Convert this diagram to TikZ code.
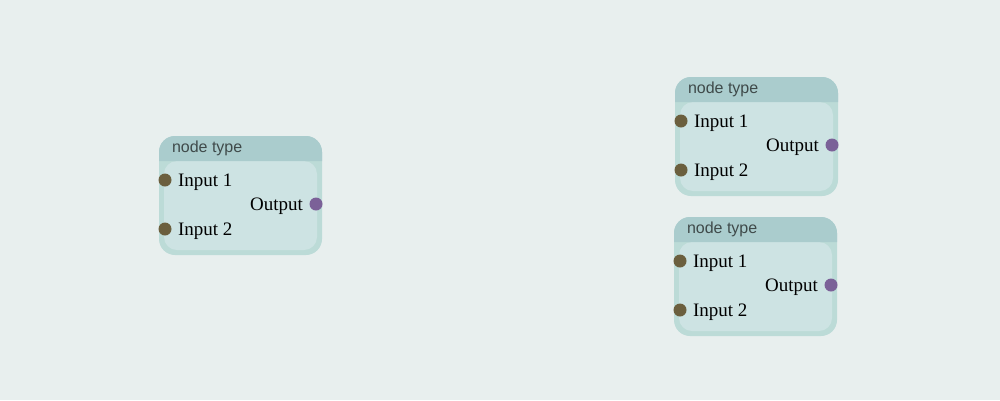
\documentclass[tikz,border=0pt]{standalone}
\usepackage{fontspec}
\setmainfont{Liberation Serif}
\newfontfamily\headfont{Liberation Sans}
\usetikzlibrary{positioning,calc}
\definecolor{canvas}{HTML}{E8EFEE}
\definecolor{rim}{HTML}{BCDBD7}
\definecolor{bodycol}{HTML}{CDE3E3}
\definecolor{headcol}{HTML}{AACCCD}
\definecolor{headink}{HTML}{3F4A4A}
\definecolor{inpin}{HTML}{6B5F3E}
\definecolor{outpin}{HTML}{7B6198}

\begin{document}
\begin{tikzpicture}[x=1pt,y=-1pt]
    \tikzstyle{every node}=[inner sep=0,outer sep=0]
    \tikzstyle{box}=[rectangle,fill=rim,rounded corners=16,minimum width=163,minimum height=119]
    \tikzstyle{socket}=[circle,minimum size=13]
    \tikzstyle{inport}=[socket,fill=inpin]
    \tikzstyle{outport}=[socket,fill=outpin]
    \tikzstyle{portname}=[font=\fontsize{19}{21}\selectfont,node distance=6.5,yshift=-2]
    \tikzstyle{headtext}=[font=\headfont\fontsize{16}{18}\selectfont,text=headink,anchor=west]

    \fill[canvas] (0,0) rectangle (1000,400);

    \foreach \i/\x/\y in {a/159/136, b/675/77, c/674/217}
    {
        \node[box] (box\i) at (\x+81.5,\y+59.5) {};
        \fill[bodycol,rounded corners=13] ([xshift=5,yshift=5]box\i.south west)
            rectangle ([xshift=-5,yshift=-25]box\i.north east);
        \fill[headcol] ([yshift=-25]box\i.north west) [rounded corners=16]
            -- (box\i.north west) -- (box\i.north east) [sharp corners]
            -- ([yshift=-25]box\i.north east) -- cycle;

        \node[headtext] (head\i) at ([xshift=13,yshift=-12]box\i.north west) {node type};

        \node[inport] (in\i1) at ([xshift=6,yshift=-44]box\i.north west) {};
        \node[inport] (in\i2) at ([xshift=6,yshift=-93]box\i.north west) {};
        \node[outport] (out\i) at ([xshift=-6,yshift=-68]box\i.north east) {};

        \node[portname,right=of in\i1] (lin\i1) {Input 1};
        \node[portname,right=of in\i2] (lin\i2) {Input 2};
        \node[portname,left=of out\i] (lout\i) {Output};
    }
\end{tikzpicture}
\end{document}
